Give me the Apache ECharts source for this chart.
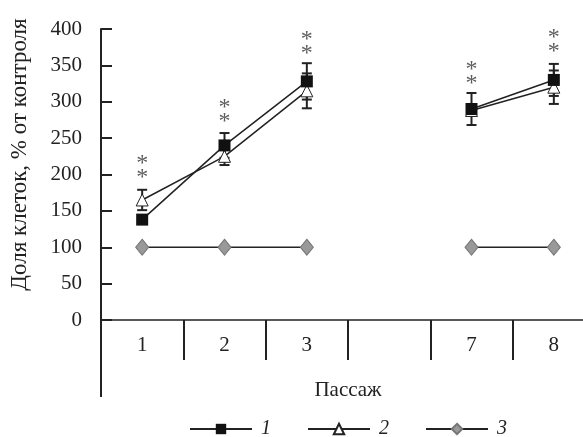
<!DOCTYPE html>
<html>
<head>
<meta charset="utf-8">
<script src="https://cdn.jsdelivr.net/npm/echarts@6/dist/echarts.min.js"></script>
<style>
  html, body { margin: 0; padding: 0; background: #fff; overflow: hidden; }
  /* last category runs past the right edge of the picture */
  #chart { width: 595px; height: 437px; }
</style>
</head>
<body>
<div id="chart"></div>
<script>
// passages (empty slot between 3 and 7)
var passages = ['1', '2', '3', '', '7', '8'];
var tickValues = [0, 50, 100, 150, 200, 250, 300, 350, 400];

var series1 = [138, 240, 328, null, 290, 330];
var error1 = [5, 17, 25, null, 22, 22];
var series2 = [165, 225, 315, null, 288, 320];
var error2 = [14, 12, 24, null, 5, 23];
var series3 = [100, 100, 100, null, 100, 100];

// where the ** marks sit
var starLevel = [205, 282, 375, null, 335, 378];

var serif = 'Liberation Serif';

function errData(vals, errs) {
    var out = [];
    vals.forEach(function(v, i) {
        if (v != null) out.push([i, v, errs[i]]);
    });
    return out;
}

function renderErr(params, api) {
    var x = api.value(0), v = api.value(1), e = api.value(2);
    var hi = api.coord([x, v + e]);
    var lo = api.coord([x, v - e]);
    var w = 5;
    var st = { stroke: '#222', lineWidth: 2 };
    return {
        type: 'group',
        children: [
            { type: 'line', shape: { x1: hi[0], y1: hi[1], x2: lo[0], y2: lo[1] }, style: st },
            { type: 'line', shape: { x1: hi[0] - w, y1: hi[1], x2: hi[0] + w, y2: hi[1] }, style: st },
            { type: 'line', shape: { x1: lo[0] - w, y1: lo[1], x2: lo[0] + w, y2: lo[1] }, style: st }
        ]
    };
}

var chart = echarts.init(document.getElementById('chart'));

var option = {
    animation: false,
    grid: { left: 101, top: 29, right: 0, bottom: 117 },
    legend: {
        data: ['1', '2', '3'],
        left: 184,
        top: 414,
        itemWidth: 62,
        itemHeight: 13,
        itemGap: 36,
        textStyle: { fontFamily: serif, fontStyle: 'italic', fontSize: 20, color: '#222', padding: [0, 0, 0, 4] }
    },
    xAxis: {
        type: 'category',
        data: passages,
        name: 'Пассаж',
        nameLocation: 'middle',
        nameGap: 60,
        nameTextStyle: { fontFamily: serif, fontSize: 21, color: '#222' },
        axisLine: { lineStyle: { color: '#222', width: 1.5 } },
        axisTick: { show: true, length: 40, lineStyle: { color: '#222', width: 2 } },
        axisLabel: { fontFamily: serif, fontSize: 21, color: '#222', margin: 15 },
        splitLine: { show: false }
    },
    yAxis: {
        type: 'value',
        min: 0,
        max: 400,
        interval: 50,
        name: 'Доля клеток, % от контроля',
        nameLocation: 'middle',
        nameGap: 70,
        nameRotate: 90,
        nameTextStyle: { fontFamily: serif, fontSize: 23, color: '#222', padding: [0, 0, 0, 40] },
        axisLine: { show: true, lineStyle: { color: '#222', width: 2 } },
        axisTick: { show: true, inside: true, length: 11, lineStyle: { color: '#222', width: 2 } },
        axisLabel: { fontFamily: serif, fontSize: 21, color: '#222', margin: 19 },
        splitLine: { show: false }
    },
    series: [
        {
            name: 'err1', type: 'custom', renderItem: renderErr,
            data: errData(series1, error1), z: 1
        },
        {
            name: 'err2', type: 'custom', renderItem: renderErr,
            data: errData(series2, error2), z: 1
        },
        {
            name: '3', type: 'line', data: series3, connectNulls: false,
            symbol: 'diamond', symbolSize: [13, 16],
            lineStyle: { color: '#222', width: 1.5 },
            itemStyle: { color: '#999', borderColor: '#777', borderWidth: 1 },
            z: 2
        },
        {
            name: '2', type: 'line', data: series2, connectNulls: false,
            symbol: 'triangle', symbolSize: 12,
            lineStyle: { color: '#222', width: 1.5 },
            itemStyle: { color: '#fff', borderColor: '#222', borderWidth: 1 },
            z: 3
        },
        {
            name: '1', type: 'line', data: series1, connectNulls: false,
            symbol: 'rect', symbolSize: 12,
            lineStyle: { color: '#222', width: 1.5 },
            itemStyle: { color: '#111', borderColor: '#111', borderWidth: 0 },
            z: 4
        },
        {
            name: 'stars', type: 'scatter', data: starLevel,
            symbolSize: 1,
            itemStyle: { color: 'rgba(0,0,0,0)' },
            label: {
                show: true, position: 'inside', formatter: '*\n*',
                fontFamily: serif, fontSize: 24, lineHeight: 14, color: '#333'
            },
            z: 5
        }
    ]
};

chart.setOption(option);

// the y axis line runs on down past the x axis, under the label row
var leftX = 101;
var zeroY = chart.convertToPixel({ yAxisIndex: 0 }, 0);
chart.setOption({
    graphic: [{
        type: 'line',
        shape: { x1: leftX, y1: zeroY, x2: leftX, y2: zeroY + 77 },
        style: { stroke: '#222', lineWidth: 2 }
    }]
});
</script>
</body>
</html>
